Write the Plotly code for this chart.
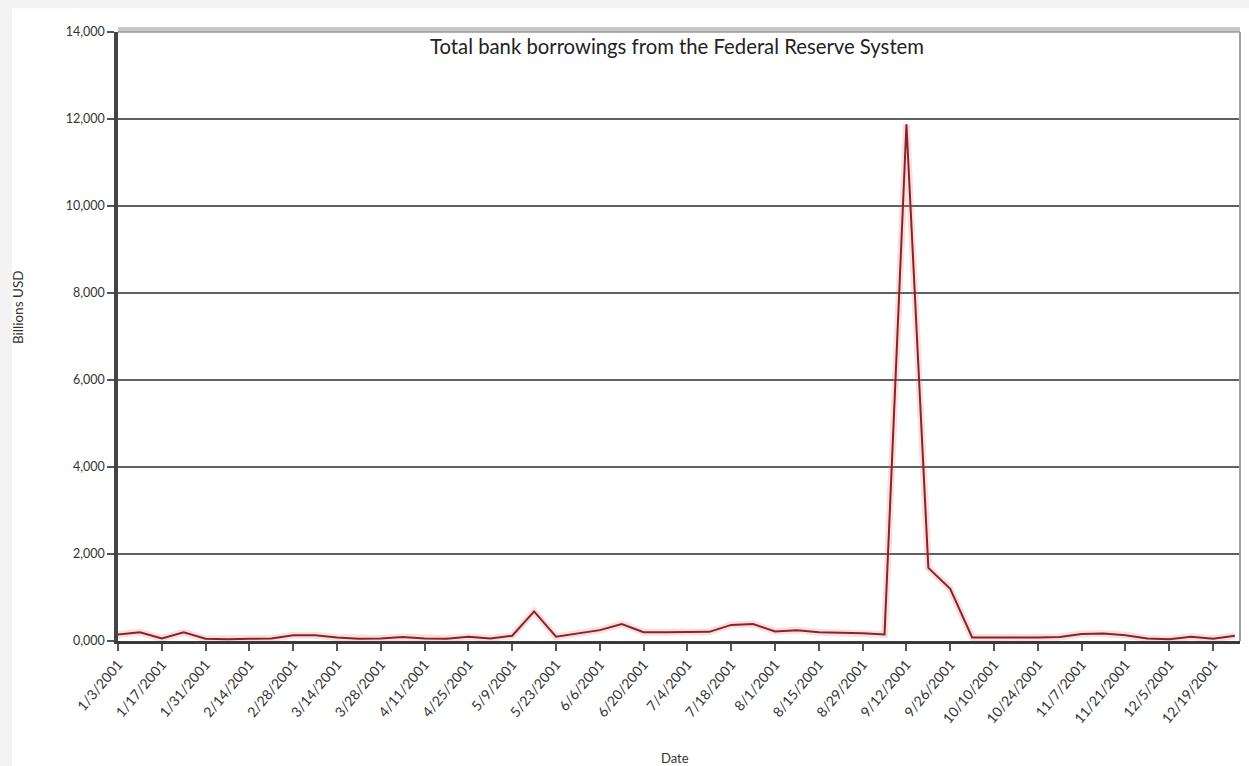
import plotly.graph_objects as go

# Weekly dates (Wednesdays) in 2001
dates = [
    "1/3/2001", "1/10/2001", "1/17/2001", "1/24/2001", "1/31/2001", "2/7/2001",
    "2/14/2001", "2/21/2001", "2/28/2001", "3/7/2001", "3/14/2001", "3/21/2001",
    "3/28/2001", "4/4/2001", "4/11/2001", "4/18/2001", "4/25/2001", "5/2/2001",
    "5/9/2001", "5/16/2001", "5/23/2001", "5/30/2001", "6/6/2001", "6/13/2001",
    "6/20/2001", "6/27/2001", "7/4/2001", "7/11/2001", "7/18/2001", "7/25/2001",
    "8/1/2001", "8/8/2001", "8/15/2001", "8/22/2001", "8/29/2001", "9/5/2001",
    "9/12/2001", "9/19/2001", "9/26/2001", "10/3/2001", "10/10/2001", "10/17/2001",
    "10/24/2001", "10/31/2001", "11/7/2001", "11/14/2001", "11/21/2001", "11/28/2001",
    "12/5/2001", "12/12/2001", "12/19/2001", "12/26/2001",
]

# Total bank borrowings (billions USD)
borrowings = [
    150, 200, 60, 200, 50, 40,
    50, 60, 130, 130, 80, 50,
    60, 90, 60, 50, 100, 60,
    120, 680, 100, 170, 250, 390,
    200, 200, 200, 210, 370, 390,
    220, 250, 200, 190, 180, 150,
    11880, 1680, 1200, 80, 80, 70,
    80, 90, 160, 170, 130, 60,
    40, 100, 50, 120,
]

tick_dates = dates[::2]
y_ticks = [0, 2000, 4000, 6000, 8000, 10000, 12000, 14000]
y_tick_text = ["0,000", "2,000", "4,000", "6,000", "8,000", "10,000", "12,000", "14,000"]

title_text = "Total bank borrowings from the Federal Reserve System"
y_title = "Billions USD"
x_title = "Date"

FONT = "Lato, 'Open Sans', sans-serif"

fig = go.Figure()
# soft halo under the line (as in the source image)
fig.add_trace(go.Scatter(
    x=dates, y=borrowings, mode="lines",
    line=dict(color="rgba(220,110,110,0.22)", width=7),
    hoverinfo="skip", showlegend=False,
))
fig.add_trace(go.Scatter(
    x=dates, y=borrowings, mode="lines",
    line=dict(color="#8a2228", width=2),
    showlegend=False,
))

fig.update_layout(
    width=1249, height=766,
    margin=dict(l=118, r=9, t=32, b=125),
    paper_bgcolor="#f3f3f3",
    plot_bgcolor="white",
    font=dict(family=FONT, size=12, color="#333333"),
    xaxis=dict(
        type="category",
        range=[0, 51.23],
        tickmode="array",
        tickvals=tick_dates,
        ticktext=tick_dates,
        tickangle=-50,
        ticks="outside", ticklen=7, tickwidth=1.5, tickcolor="#555555",
        showline=True, linecolor="#3a3a3a", linewidth=2.5,
        showgrid=False, zeroline=False,
        tickfont=dict(size=14, color="#333333"),
    ),
    yaxis=dict(
        range=[0, 14000],
        tickmode="array",
        tickvals=y_ticks,
        ticktext=y_tick_text,
        ticks="outside", ticklen=7, tickwidth=1.5, tickcolor="#555555",
        showline=True, linecolor="#444444", linewidth=3.5,
        showgrid=True, gridcolor="#606060", gridwidth=1.7,
        zeroline=False,
        tickfont=dict(size=12.5, color="#333333"),
    ),
    shapes=[
        # white chart area inside the light grey page border
        dict(type="rect", xref="paper", yref="paper",
             x0=-0.0945, x1=1.01, y0=-0.21, y1=1.039,
             fillcolor="white", line=dict(width=0), layer="below"),
        # top frame (shadowed border)
        dict(type="line", xref="paper", yref="paper",
             x0=0, x1=1, y0=1.004, y1=1.004,
             line=dict(color="#c8c8c8", width=5)),
        dict(type="line", xref="paper", yref="paper",
             x0=0, x1=1, y0=1, y1=1,
             line=dict(color="#9a9a9a", width=1.5)),
        # right frame
        dict(type="line", xref="paper", yref="paper",
             x0=1, x1=1, y0=0, y1=1,
             line=dict(color="#a0a0a0", width=2)),
    ],
    annotations=[
        dict(text=title_text, xref="paper", yref="paper",
             x=0.498, y=0.977, xanchor="center", yanchor="middle",
             showarrow=False, font=dict(family=FONT, size=20.3, color="#222222")),
        dict(text=y_title, xref="paper", yref="paper",
             x=-0.0885, y=0.548, xanchor="center", yanchor="middle",
             textangle=-90, showarrow=False,
             font=dict(family=FONT, size=13.5, color="#333333")),
        dict(text=x_title, xref="paper", yref="paper",
             x=0.496, y=-0.192, xanchor="center", yanchor="middle",
             showarrow=False, font=dict(family=FONT, size=13, color="#333333")),
    ],
)

fig.write_html("out.html")
